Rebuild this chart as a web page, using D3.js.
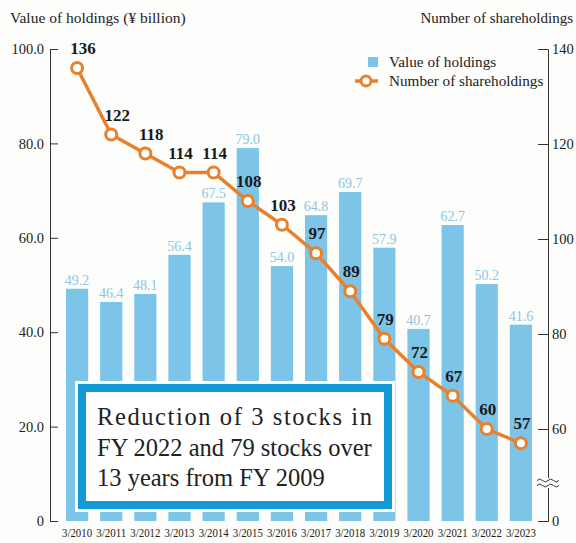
<!DOCTYPE html>
<html>
<head>
<meta charset="utf-8">
<script src="https://cdn.jsdelivr.net/npm/d3@7"></script>
<style>
  body { margin: 0; background: #fdfdfb; }
  svg { display: block; font-family: "Liberation Serif", "DejaVu Serif", serif; }
  svg text { font-family: "Liberation Serif", "DejaVu Serif", serif; }
  .axis text { font-size: 14.5px; fill: #222; }
  .axis path, .axis line { stroke: #333; stroke-width: 1; }
  .xaxis text { font-size: 12px; fill: #222; }
</style>
</head>
<body>
<div id="chart"></div>
<script>
const years = ["3/2010", "3/2011", "3/2012", "3/2013", "3/2014", "3/2015", "3/2016",
    "3/2017", "3/2018", "3/2019", "3/2020", "3/2021", "3/2022", "3/2023"];
const holdingsValue = [49.2, 46.4, 48.1, 56.4, 67.5, 79.0, 54.0, 64.8, 69.7, 57.9, 40.7, 62.7, 50.2, 41.6];
const shareholdings = [136, 122, 118, 114, 114, 108, 103, 97, 89, 79, 72, 67, 60, 57];
const leftTicks = [0, 20, 40, 60, 80, 100];
const rightTicks = [0, 60, 80, 100, 120, 140];
const noteLines = ["Reduction of 3 stocks in", "FY 2022 and 79 stocks over", "13 years from FY 2009"];

const W = 576, H = 543;
const barColor = "#7cc5e8", labelBlue = "#8cc6e3", orange = "#e8802c", boxBlue = "#129ad7";

const svg = d3.select("#chart").append("svg")
    .attr("width", W)
    .attr("height", H);

const x = d3.scaleBand()
    .domain(years)
    .range([60, 538])
    .paddingInner(0.35)
    .paddingOuter(0.175);

const yL = d3.scaleLinear().domain([0, 100]).range([521, 49]);
// right axis is broken between 0 and 60
const yRaxis = d3.scaleLinear().domain([0, 60, 140]).range([521, 429, 49]);
const yR = d3.scaleLinear().domain([60, 140]).range([429, 49]);

// axis titles
svg.append("text")
    .attr("x", 10).attr("y", 23)
    .attr("font-size", 15.5).attr("fill", "#222")
    .text("Value of holdings (\u00a5 billion)");
svg.append("text")
    .attr("x", 573).attr("y", 23)
    .attr("text-anchor", "end")
    .attr("font-size", 15).attr("fill", "#222")
    .text("Number of shareholdings");

// bars
svg.append("g")
    .selectAll("rect")
    .data(holdingsValue)
    .join("rect")
    .attr("x", (d, i) => x(years[i]))
    .attr("y", d => yL(d))
    .attr("width", x.bandwidth())
    .attr("height", d => yL(0) - yL(d))
    .attr("fill", barColor);

// bar values
svg.append("g")
    .selectAll("text")
    .data(holdingsValue)
    .join("text")
    .attr("x", (d, i) => x(years[i]) + x.bandwidth() / 2)
    .attr("y", d => yL(d) - 4)
    .attr("text-anchor", "middle")
    .attr("font-size", 14)
    .attr("fill", labelBlue)
    .text(d => d.toFixed(1));

// left axis
svg.append("g")
    .attr("class", "axis")
    .attr("transform", "translate(50,0)")
    .call(d3.axisLeft(yL)
        .tickValues(leftTicks)
        .tickSize(-8)
        .tickPadding(6)
        .tickFormat(d => d === 0 ? "0" : d3.format(".1f")(d)));

// right axis
svg.append("g")
    .attr("class", "axis")
    .attr("transform", "translate(548,0)")
    .call(d3.axisRight(yRaxis)
        .tickValues(rightTicks)
        .tickSize(-10)
        .tickPadding(4)
        .tickFormat(d3.format("d")));

// break mark on right axis
const brk = svg.append("g").attr("transform", "translate(548,483)");
brk.append("rect").attr("x", -12).attr("y", -5).attr("width", 24).attr("height", 10).attr("fill", "#fdfdfb");
[-2.5, 2.5].forEach(dy => {
    brk.append("path")
        .attr("d", `M-11,${dy} q2.75,-3 5.5,0 t5.5,0 t5.5,0 t5.5,0`)
        .attr("fill", "none")
        .attr("stroke", "#333")
        .attr("stroke-width", 1);
});

// x labels
svg.append("g")
    .attr("class", "axis xaxis")
    .attr("transform", "translate(0,524)")
    .call(d3.axisBottom(x).tickSize(0).tickPadding(4))
    .call(g => g.select(".domain").remove())
    .call(g => g.selectAll("text").attr("textLength", 30).attr("lengthAdjust", "spacingAndGlyphs"));

// shareholdings line
const line = d3.line()
    .x((d, i) => x(years[i]) + x.bandwidth() / 2)
    .y(d => yR(d));

svg.append("path")
    .datum(shareholdings)
    .attr("d", line)
    .attr("fill", "none")
    .attr("stroke", orange)
    .attr("stroke-width", 3.5);

svg.append("g")
    .selectAll("circle")
    .data(shareholdings)
    .join("circle")
    .attr("cx", (d, i) => x(years[i]) + x.bandwidth() / 2)
    .attr("cy", d => yR(d))
    .attr("r", 5.5)
    .attr("fill", "#fff")
    .attr("stroke", orange)
    .attr("stroke-width", 3);

svg.append("g")
    .selectAll("text")
    .data(shareholdings)
    .join("text")
    .attr("x", (d, i) => x(years[i]) + x.bandwidth() / 2 + (i < 3 ? 6 : 1))
    .attr("y", d => yR(d) - 14)
    .attr("text-anchor", "middle")
    .attr("font-size", 17)
    .attr("font-weight", "bold")
    .attr("fill", "#1a1a1a")
    .text(d => d);

// legend
const legend = svg.append("g");
legend.append("rect")
    .attr("x", 368).attr("y", 57).attr("width", 10).attr("height", 10)
    .attr("fill", barColor);
legend.append("text")
    .attr("x", 389).attr("y", 67)
    .attr("font-size", 15.2).attr("fill", "#222")
    .text("Value of holdings");
legend.append("line")
    .attr("x1", 355).attr("x2", 378).attr("y1", 81).attr("y2", 81)
    .attr("stroke", orange).attr("stroke-width", 3.5);
legend.append("circle")
    .attr("cx", 366).attr("cy", 81).attr("r", 5)
    .attr("fill", "#fff").attr("stroke", orange).attr("stroke-width", 3);
legend.append("text")
    .attr("x", 389).attr("y", 86)
    .attr("font-size", 15.2).attr("fill", "#222")
    .text("Number of shareholdings");

// note box
const note = svg.append("g");
note.append("rect")
    .attr("x", 75).attr("y", 381).attr("width", 320).attr("height", 131)
    .attr("fill", "#fdfdfb");
note.append("rect")
    .attr("x", 82).attr("y", 388).attr("width", 306).attr("height", 117)
    .attr("fill", "#fff")
    .attr("stroke", boxBlue)
    .attr("stroke-width", 8);
note.selectAll("text")
    .data(noteLines)
    .join("text")
    .attr("x", 97)
    .attr("y", (d, i) => 425 + i * 30.5)
    .attr("font-size", 24.5)
    .attr("fill", "#222")
    .attr("textLength", (d, i) => i === 0 ? 275 : null)
    .attr("lengthAdjust", "spacing")
    .text(d => d);
</script>
</body>
</html>
